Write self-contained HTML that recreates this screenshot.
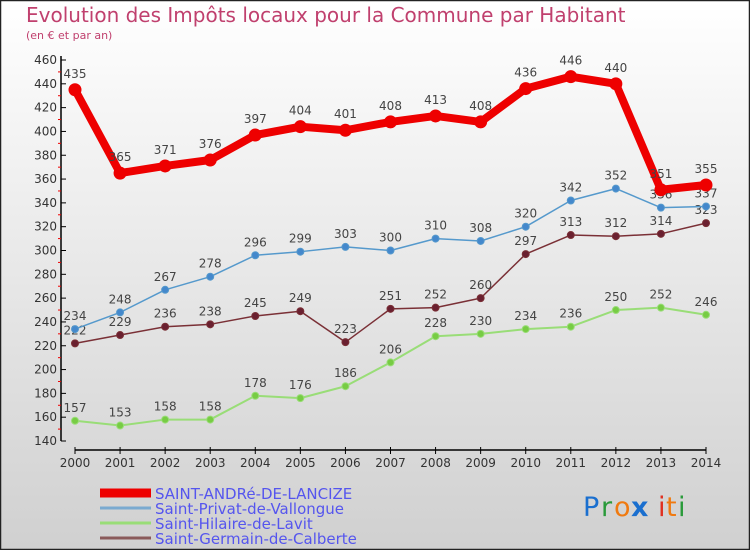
<!DOCTYPE html>
<html><head><meta charset="utf-8"><style>
body{margin:0}
#c{width:750px;height:550px;position:relative;overflow:hidden;font-family:"DejaVu Sans","Liberation Sans",sans-serif}
</style></head><body>
<div id="c">
<svg id="s" width="750" height="550" xmlns="http://www.w3.org/2000/svg">
<defs><linearGradient id="bg" x1="0" y1="0" x2="0" y2="1"><stop offset="0" stop-color="#ffffff"/><stop offset="1" stop-color="#d0d0d0"/></linearGradient></defs>
<rect x="0.5" y="0.5" width="749" height="549" fill="url(#bg)" stroke="#222" stroke-width="1.5"/>
<text x="26" y="22" font-size="20" fill="#c0406e">Evolution des Impôts locaux pour la Commune par Habitant</text>
<text x="26" y="39" font-size="11" fill="#c0406e">(en € et par an)</text>
<g id="axes"></g><g id="series"></g><g id="legend"></g>
<g font-family="'DejaVu Sans',sans-serif" font-size="27">
<text x="583" y="516" fill="#1a6fcf">P</text><text x="601" y="516" fill="#2a9a3a">r</text><text x="614" y="516" fill="#f07a10">o</text><text x="631" y="516" fill="#1a6fcf" font-weight="bold">x</text><text x="658" y="516" fill="#e03020">i</text><text x="666" y="516" fill="#f07a10">t</text><text x="678" y="516" fill="#2a9a3a">i</text>
</g>
</svg></div>
<script>
const years=[2000,2001,2002,2003,2004,2005,2006,2007,2008,2009,2010,2011,2012,2013,2014];
const saintAndre=[435,365,371,376,397,404,401,408,413,408,436,446,440,351,355];
const saintPrivat=[234,248,267,278,296,299,303,300,310,308,320,342,352,336,337];
const saintHilaire=[157,153,158,158,178,176,186,206,228,230,234,236,250,252,246];
const saintGermain=[222,229,236,238,245,249,223,251,252,260,297,313,312,314,323];
const yTicks=[140,160,180,200,220,240,260,280,300,320,340,360,380,400,420,440,460];
const seriesNames=["SAINT-ANDRé-DE-LANCIZE","Saint-Privat-de-Vallongue","Saint-Hilaire-de-Lavit","Saint-Germain-de-Calberte"];
const NS="http://www.w3.org/2000/svg";
const X=i=>75+i*(706-75)/(years.length-1);
const Y=v=>441-(v-140)*(441-60)/320;
function mk(t,a,p){const e=document.createElementNS(NS,t);for(const k in a)e.setAttribute(k,a[k]);p.appendChild(e);return e;}
const ax=document.getElementById('axes');
mk('line',{x1:61,y1:56,x2:61,y2:441,stroke:'#000','stroke-width':1.5},ax);
mk('line',{x1:75,y1:450,x2:706,y2:450,stroke:'#000','stroke-width':1.5},ax);
yTicks.forEach((v,i)=>{
 mk('line',{x1:61,y1:Y(v),x2:66,y2:Y(v),stroke:'#000'},ax);
 if(i<yTicks.length-1) mk('line',{x1:58,y1:Y(v+10),x2:61,y2:Y(v+10),stroke:'#e00'},ax);
 const t=mk('text',{x:57,y:Y(v)+4,'text-anchor':'end','font-size':12,fill:'#333'},ax);t.textContent=v;
 
 
});
years.forEach((y,i)=>{
 mk('line',{x1:X(i),y1:447,x2:X(i),y2:454,stroke:'#000'},ax);
 const t=mk('text',{x:X(i),y:467,'text-anchor':'middle','font-size':12,fill:'#333'},ax);t.textContent=y;
 
 
});
const sg=document.getElementById('series');
function draw(data,color,dot,w,r,name,off){
 const g=mk('g',{},sg);
 
 
 mk('polyline',{points:data.map((v,i)=>X(i)+','+Y(v)).join(' '),fill:'none',stroke:color,'stroke-width':w,'stroke-linejoin':'round'},g);
 data.forEach((v,i)=>{
  const c=mk('circle',{cx:X(i),cy:Y(v),r:r,fill:dot,stroke:color,'stroke-width':1},g);
  
  
  const t=mk('text',{x:X(i),y:Y(v)-off,'text-anchor':'middle','font-size':12,fill:'#444'},g);t.textContent=v;
  
  
 });
}
draw(saintHilaire,'#99dd77','#77cc44',2,3.5,'series-saint-hilaire',9);
draw(saintGermain,'#7a3036','#6a2030',1.5,3.5,'series-saint-germain',9);
draw(saintPrivat,'#5599cc','#4488cc',1.5,3.5,'series-saint-privat',9);
draw(saintAndre,'#ee0000','#ee0000',8,6,'series-saint-andre',12);
const lg=document.getElementById('legend');
const lc=['#ee0000','#7aaad0','#99dd77','#8a5a5a'],lw=[9,3,3,3],ly=[493,508,523,538];
seriesNames.forEach((n,i)=>{
 const g=mk('g',{},lg);
 
 
 mk('line',{x1:100,y1:ly[i],x2:151,y2:ly[i],stroke:lc[i],'stroke-width':lw[i]},g);
 const t=mk('text',{x:155,y:ly[i]+6,'font-size':15,fill:'#5555ee'},g);t.textContent=n;
});
</script>
</body></html>
